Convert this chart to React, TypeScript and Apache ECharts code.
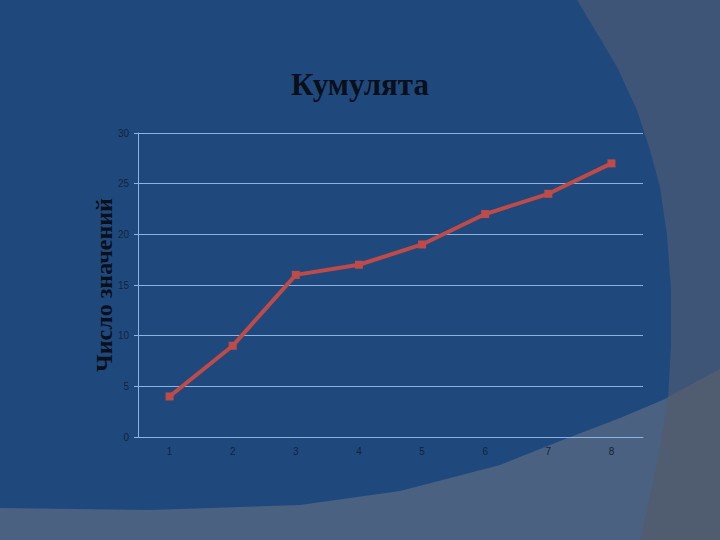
import React, { useEffect, useRef } from "react";
import * as echarts from "echarts";

const categories = ["1", "2", "3", "4", "5", "6", "7", "8"];
const values = [4, 9, 16, 17, 19, 22, 24, 27];
const titleText = "Кумулята";
const yAxisName = "Число значений";

const rightShape = [
  [577, 0], [598, 35], [617, 67], [637, 110], [650, 150], [660, 187],
  [667, 235], [671, 290], [671, 345], [668, 400], [658, 460], [640, 540],
  [720, 540], [720, 0],
];
const bottomShape = [
  [0, 508], [150, 510], [300, 505], [400, 491], [500, 465], [560, 441],
  [620, 418], [665, 399], [720, 369], [720, 540], [0, 540],
];
const overlapShape = [
  [668, 397], [720, 369], [720, 540], [640, 540], [658, 460],
];

export default function App() {
  const ref = useRef<HTMLDivElement>(null);
  useEffect(() => {
    if (!ref.current) return;
    const chart = echarts.init(ref.current, null, { renderer: "svg" });
    chart.setOption({
      animation: false,
      backgroundColor: "#1F497D",
      graphic: [
        { type: "polygon", z: -100, silent: true, shape: { points: rightShape }, style: { fill: "#3E5578" } },
        { type: "polygon", z: -99, silent: true, shape: { points: bottomShape }, style: { fill: "#4A6181" } },
        { type: "polygon", z: -98, silent: true, shape: { points: overlapShape }, style: { fill: "#505C6F" } },
      ],
      title: {
        text: titleText,
        left: "center",
        top: 64,
        textStyle: {
          fontFamily: "Liberation Serif, DejaVu Serif, serif",
          fontWeight: "bold",
          fontSize: 31,
          color: "#0a0f1a",
        },
      },
      grid: { left: 138, right: 77, top: 133, bottom: 103, containLabel: false },
      xAxis: {
        type: "category",
        data: categories,
        boundaryGap: true,
        axisLine: { show: true, lineStyle: { color: "#8DB3E2", width: 1 } },
        axisTick: { show: false },
        axisLabel: { color: "#13233a", fontSize: 10, fontFamily: "Liberation Sans, Arial, sans-serif", margin: 9 },
        splitLine: { show: false },
      },
      yAxis: {
        type: "value",
        min: 0,
        max: 30,
        interval: 5,
        name: yAxisName,
        nameLocation: "middle",
        nameGap: 22,
        nameMoveOverlap: false,
        nameTextStyle: {
          fontFamily: "Liberation Serif, DejaVu Serif, serif",
          fontWeight: "bold",
          fontSize: 24,
          color: "#0a0f1a",
        },
        axisLine: { show: true, lineStyle: { color: "#8DB3E2", width: 1 } },
        axisTick: { show: true, length: 4, lineStyle: { color: "#8DB3E2" } },
        axisLabel: { color: "#13233a", fontSize: 10, fontFamily: "Liberation Sans, Arial, sans-serif", margin: 9 },
        splitLine: { show: true, lineStyle: { color: "#8DB3E2", width: 1 } },
      },
      series: [
        {
          type: "line",
          data: values,
          symbol: "rect",
          symbolSize: 8,
          lineStyle: { color: "#BE4B48", width: 4 },
          itemStyle: { color: "#BE4B48" },
        },
      ],
    });
    return () => chart.dispose();
  }, []);
  return (
    <div
      ref={ref}
      style={{ position: "fixed", left: 0, top: 0, width: 720, height: 540 }}
    />
  );
}
